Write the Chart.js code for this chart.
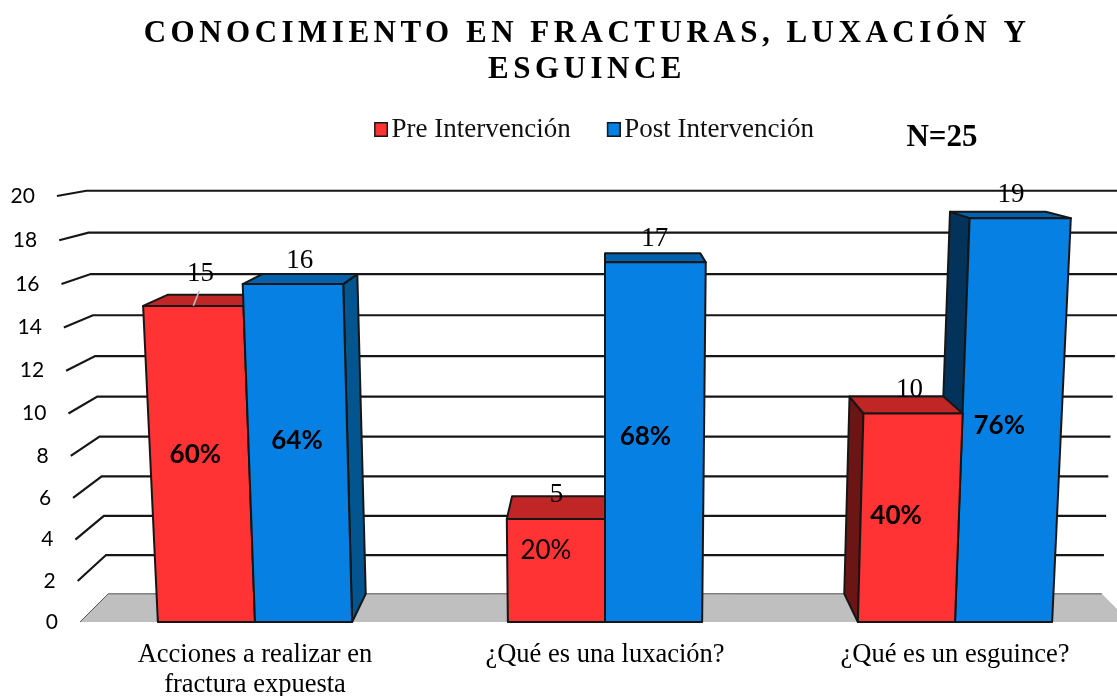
<!DOCTYPE html>
<html lang="es">
<head>
<meta charset="utf-8">
<style>
html,body{margin:0;padding:0;background:#fff;overflow:hidden;width:1117px;height:696px}
#wrap{width:1117px;height:696px;overflow:hidden;position:relative}
canvas{display:block}
</style>
<script src="https://cdn.jsdelivr.net/npm/chart.js@4"></script>
</head>
<body>
<div id="wrap"><canvas id="c" width="1140" height="696"></canvas></div>
<script>
const categories = [["Acciones a realizar en","fractura expuesta"],"¿Qué es una luxación?","¿Qué es un esguince?"];
const preValues = [15,5,10];
const postValues = [16,17,19];
const prePercent = ["60%","20%","40%"];
const postPercent = ["64%","68%","76%"];
const preBold = [true,false,true];
const postBold = [true,true,true];
const seriesNames = ["Pre Intervención","Post Intervención"];
const titleLines = ["CONOCIMIENTO EN FRACTURAS, LUXACIÓN Y","ESGUINCE"];
const sampleNote = "N=25";

/* perspective model of the 3D view */
const GROW = 0.0022, DEPTH = 0.9462, HORIZON_Y = 98, BOW = 0.045;
const RED='#FF3333', RED_TOP='#C02626', RED_SIDE='#6B1515';
const BLUE='#0680E3', BLUE_TOP='#0462AC', BLUE_SIDE_R='#03558F', BLUE_SIDE_L='#03335A';
const INK='#161616';
const SERIF='"Liberation Serif"', SANS='Lato';
const LEGEND_UP=43;
/* label nudges in px: [series][category] */
const pctNudge=[[[2,-12],[-10,-20],[-17,-3]],[[4,-15],[-10,-9],[-21,1]]];
const cntNudge=[[[-15,-21],[-2,-1],[13,-7]],[[-10,-13],[2,-14],[13,-17]]];

class PerspectiveScale extends Chart.LinearScale {
  static id='perspective';
  static defaults=Chart.LinearScale.defaults;
  getPixelForValue(v){
    return super.getPixelForValue(v)+BOW*v*(this.max-v);
  }
  _computeLabelArea(){ return undefined; }
  _computeLabelItems(area){
    const items=super._computeLabelItems(area);
    const half=(this.chart.scales.x.right-this.chart.scales.x.left)/2;
    items.forEach((it,i)=>{ it.options.translation[0]-=GROW*this.ticks[i].value*half; });
    return items;
  }
}
Chart.register(PerspectiveScale);

function swatch(color){
  const s=document.createElement('canvas'); s.width=20; s.height=15;
  const g=s.getContext('2d');
  g.fillStyle=color; g.strokeStyle=INK; g.lineWidth=1.5;
  g.fillRect(7,1,12,13); g.strokeRect(6.75,.75,12.5,13.5);
  return s;
}

const view3d={
  id:'view3d',
  afterLayout(chart){
    const lg=chart.legend, up=LEGEND_UP;
    lg.top-=up; lg.bottom-=up; lg.left+=9; lg.right+=9;
    const tb=chart.titleBlock;
    if(!tb._spaced){
      tb._spaced=true;
      const d=tb.draw;
      tb.draw=function(){ chart.ctx.letterSpacing='4.5px'; d.call(tb); chart.ctx.letterSpacing='0px'; };
    }
  },
  beforeDatasetsDraw(chart){
    const {ctx,scales:{x:xs,y:ys}}=chart, P=mk(chart);
    const L=xs.left,R=xs.right;
    ctx.save();
    ctx.fillStyle='#BFBFBF';
    poly(ctx,[P(L,0,0),P(L,0,1),P(R,0,1),P(R,0,0)]); ctx.fill();
    ys.ticks.forEach(t=>{
      const v=t.value, a=P(L,v,0), b=P(L,v,1), c=P(R,v,1);
      ctx.beginPath(); ctx.moveTo(a[0],a[1]); ctx.lineTo(b[0],b[1]); ctx.lineTo(c[0],c[1]);
      ctx.strokeStyle=v===0?'#555':INK; ctx.lineWidth=v===0?1:2.2; ctx.stroke();
    });
    ctx.restore();
  },
  beforeDatasetDraw(){ return false; },
  afterDatasetsDraw(chart){
    const {ctx,scales:{x:xs}}=chart, P=mk(chart), cx=xs.getPixelForValue(1);
    const bars=[];
    chart.data.datasets.forEach((d,s)=>chart.getDatasetMeta(s).data.forEach((el,i)=>bars.push({s,i,el,v:d.data[i]})));
    bars.sort((a,b)=>Math.abs(b.el.x-cx)-Math.abs(a.el.x-cx));
    ctx.save(); ctx.lineJoin='round'; ctx.strokeStyle=INK; ctx.lineWidth=2;
    bars.forEach(({s,el,v})=>{
      const l=el.x-el.width/2, r=el.x+el.width/2;
      const front=s===0?RED:BLUE, top=s===0?RED_TOP:BLUE_TOP;
      if(r<cx-1){ ctx.fillStyle=s===0?RED_SIDE:BLUE_SIDE_R;
        poly(ctx,[P(r,0,0),P(r,v,0),P(r,v,1),P(r,0,1)]); ctx.fill(); ctx.stroke(); }
      if(l>cx+1){ ctx.fillStyle=s===0?RED_SIDE:BLUE_SIDE_L;
        poly(ctx,[P(l,0,0),P(l,v,0),P(l,v,1),P(l,0,1)]); ctx.fill(); ctx.stroke(); }
      ctx.fillStyle=top; poly(ctx,[P(l,v,0),P(r,v,0),P(r,v,1),P(l,v,1)]); ctx.fill(); ctx.stroke();
      ctx.fillStyle=front; poly(ctx,[P(l,0,0),P(r,0,0),P(r,v,0),P(l,v,0)]); ctx.fill(); ctx.stroke();
    });
    ctx.restore();
    /* labels */
    ctx.save(); ctx.textAlign='center'; ctx.textBaseline='middle'; ctx.fillStyle='#000';
    bars.forEach(({s,i,el,v})=>{
      const l=el.x-el.width/2, r=el.x+el.width/2;
      const tl=P(l,v,0), tr=P(r,v,0), bl=P(l,v,1), br=P(r,v,1);
      const pn=pctNudge[s][i], cn=cntNudge[s][i];
      const bold=(s===0?preBold:postBold)[i];
      ctx.font=(bold?'bold ':'')+'26px '+SANS;
      ctx.fillText((s===0?prePercent:postPercent)[i],(tl[0]+tr[0])/2+pn[0],P(el.x,v/2,0)[1]+pn[1]);
      ctx.font='27px '+SERIF;
      ctx.fillText(String(v),(bl[0]+br[0])/2+cn[0],bl[1]+cn[1]);
    });
    /* leader line of the first pre label */
    const e=chart.getDatasetMeta(0).data[0], vv=preValues[0];
    const top=P(e.x,vv,0);
    ctx.strokeStyle='#BDBDBD'; ctx.lineWidth=1.5;
    ctx.beginPath(); ctx.moveTo(top[0]+0,top[1]); ctx.lineTo(top[0]+6,top[1]-15); ctx.stroke();
    /* sample size */
    ctx.font='bold 31px '+SERIF;
    ctx.fillText(sampleNote,942,138);
    ctx.restore();
  }
};
function mk(chart){
  const xs=chart.scales.x, ys=chart.scales.y, cx=xs.getPixelForValue(1);
  return (x,v,depth)=>{
    let px=cx+(x-cx)*(1+GROW*v), py=ys.getPixelForValue(v);
    if(depth){ px=cx+(px-cx)*DEPTH; py=HORIZON_Y+(py-HORIZON_Y)*DEPTH; }
    return [px,py];
  };
}
function poly(ctx,pts){
  ctx.beginPath(); pts.forEach((p,i)=>i?ctx.lineTo(p[0],p[1]):ctx.moveTo(p[0],p[1])); ctx.closePath();
}

new Chart(document.getElementById('c'),{
  type:'bar',
  data:{labels:categories,datasets:[
    {label:seriesNames[0],data:preValues,backgroundColor:RED,categoryPercentage:0.555,barPercentage:1},
    {label:seriesNames[1],data:postValues,backgroundColor:BLUE,categoryPercentage:0.555,barPercentage:1}
  ]},
  plugins:[view3d],
  options:{
    responsive:false,animation:false,
    layout:{padding:{left:44,right:10,top:0,bottom:0}},
    plugins:{
      tooltip:{enabled:false},
      title:{display:true,text:titleLines,color:'#000',
        font:{family:SERIF,size:31,weight:'bold',lineHeight:36/31},
        padding:{top:16,bottom:31}},
      legend:{position:'top',align:'center',
        labels:{usePointStyle:true,pointStyleWidth:0.1,boxHeight:15,padding:40,color:'#111',
          font:{family:SERIF,size:27},
          generateLabels(chart){
            return chart.data.datasets.map((d,i)=>({text:d.label,fillStyle:d.backgroundColor,strokeStyle:INK,lineWidth:1,
              pointStyle:swatch(d.backgroundColor),hidden:false,datasetIndex:i,fontColor:'#111'}));
          }}}
    },
    scales:{
      x:{grid:{display:false},border:{display:false},
        ticks:{color:'#000',padding:10,maxRotation:0,autoSkip:false,font:{family:SERIF,size:26.5,lineHeight:30/26.5}},
        afterFit(s){s.height=74;}},
      y:{type:'perspective',min:0,max:20,grid:{display:false,drawTicks:false},border:{display:false},
        ticks:{stepSize:2,padding:22,color:'#000',autoSkip:false,font:{family:SANS,size:21}},
        afterFit(s){s.width=36;}}
    }
  }
});
</script>
</body>
</html>
